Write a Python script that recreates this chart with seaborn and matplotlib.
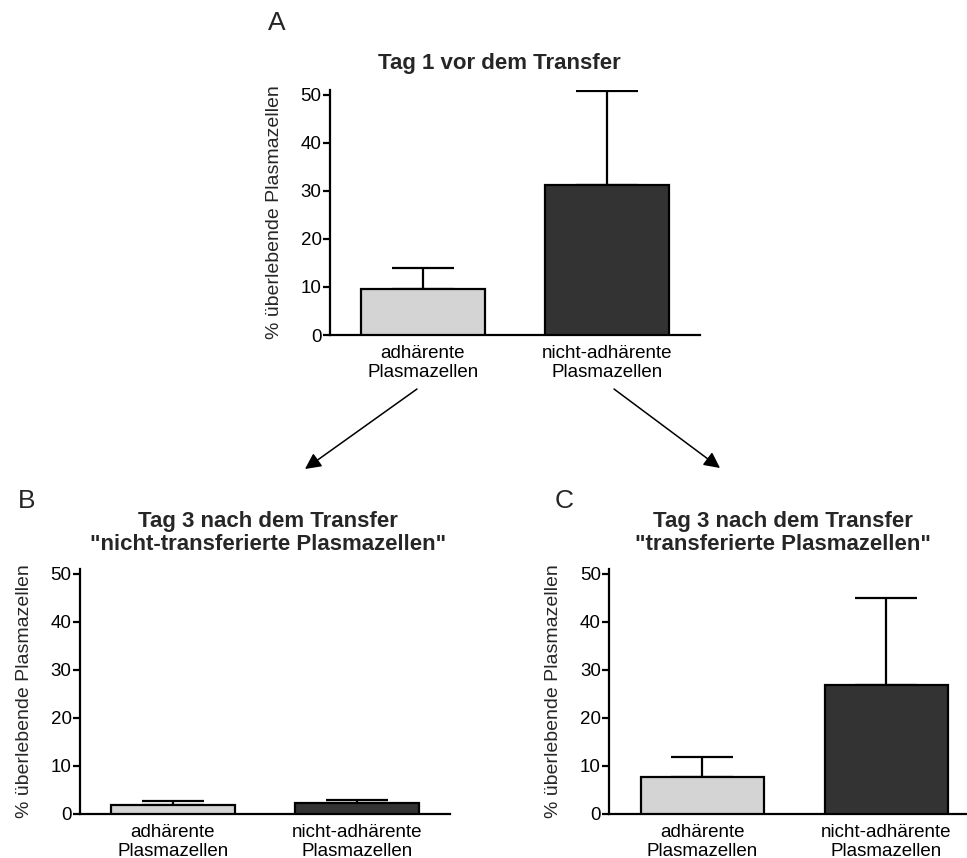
import matplotlib
matplotlib.use("Agg")
import matplotlib.pyplot as plt
import seaborn as sns
import pandas as pd
from matplotlib.patches import FancyArrowPatch

sns.set_theme(style="ticks")
plt.rcParams["font.family"] = ["Liberation Sans", "DejaVu Sans"]

# Group labels and colours
categories = ["adhärente\nPlasmazellen", "nicht-adhärente\nPlasmazellen"]
bar_colors = ["#d4d4d4", "#333333"]

# Mean survival (%) and upper error (SEM) per panel
tag1_means = [9.6, 31.3]
tag1_err = [4.3, 19.5]
tag3_nicht_means = [1.8, 2.2]
tag3_nicht_err = [1.0, 0.7]
tag3_trans_means = [7.8, 26.8]
tag3_trans_err = [4.1, 18.2]

yticks = [0, 10, 20, 30, 40, 50]
ylabel = "% überlebende Plasmazellen"

W, H = 967, 858
fig = plt.figure(figsize=(W / 100, H / 100), dpi=100)


def px_axes(left, bottom, width, height):
    return fig.add_axes([left / W, 1 - bottom / H, width / W, height / H])


def draw_panel(ax, means, errs):
    df = pd.DataFrame({"Gruppe": categories, "Wert": means})
    sns.barplot(data=df, x="Gruppe", y="Wert", hue="Gruppe", palette=bar_colors,
                width=0.67, edgecolor="black", linewidth=1.6, legend=False,
                errorbar=None, ax=ax, zorder=3)
    ax.errorbar(range(len(means)), means, yerr=[[0] * len(errs), errs], fmt="none",
                ecolor="black", elinewidth=1.6, capsize=22, capthick=1.6, zorder=2)
    ax.set_xlim(-0.505, 1.505)
    ax.set_ylim(0, 51.1)
    ax.set_yticks(yticks)
    ax.set_xlabel("")
    ax.set_ylabel(ylabel, fontsize=14, labelpad=13)
    for s in ("top", "right"):
        ax.spines[s].set_visible(False)
    for s in ("left", "bottom"):
        ax.spines[s].set_linewidth(1.6)
        ax.spines[s].set_color("black")
    ax.tick_params(axis="y", length=5, width=1.6, labelsize=13.5, pad=1, colors="black")
    ax.tick_params(axis="x", length=0, labelsize=13.5, pad=7, colors="black")
    for lab in ax.get_xticklabels():
        lab.set_linespacing(1.17)


ax_a = px_axes(330, 335, 370, 245.3)
ax_b = px_axes(80, 814, 370, 245.5)
ax_c = px_axes(609.3, 814, 370, 245.5)

draw_panel(ax_a, tag1_means, tag1_err)
draw_panel(ax_b, tag3_nicht_means, tag3_nicht_err)
draw_panel(ax_c, tag3_trans_means, tag3_trans_err)

# Panel letters
fig.text(268 / W, 1 - 23 / H, "A", fontsize=19, ha="left", va="center")
fig.text(18 / W, 1 - 501 / H, "B", fontsize=19, ha="left", va="center")
fig.text(555 / W, 1 - 501 / H, "C", fontsize=19, ha="left", va="center")

# Panel titles
fig.text(499 / W, 1 - 64 / H, "Tag 1 vor dem Transfer", fontsize=16,
         fontweight="bold", ha="center", va="center")
fig.text(268 / W, 1 - 533 / H, "Tag 3 nach dem Transfer\n\"nicht-transferierte Plasmazellen\"",
         fontsize=16, fontweight="bold", ha="center", va="center", linespacing=1.1)
fig.text(783 / W, 1 - 533 / H, "Tag 3 nach dem Transfer\n\"transferierte Plasmazellen\"",
         fontsize=16, fontweight="bold", ha="center", va="center", linespacing=1.1)

# Arrows linking the day-1 groups to the day-3 panels
for (x0, y0), (x1, y1) in [((417, 389), (305, 469)), ((614, 389), (720, 468))]:
    arr = FancyArrowPatch((x0 / W, 1 - y0 / H), (x1 / W, 1 - y1 / H),
                          transform=fig.transFigure, arrowstyle="-|>",
                          mutation_scale=24, lw=1.1, color="black",
                          shrinkA=0, shrinkB=0)
    fig.patches.append(arr)

fig.savefig("out.png", dpi=100, facecolor="white")
